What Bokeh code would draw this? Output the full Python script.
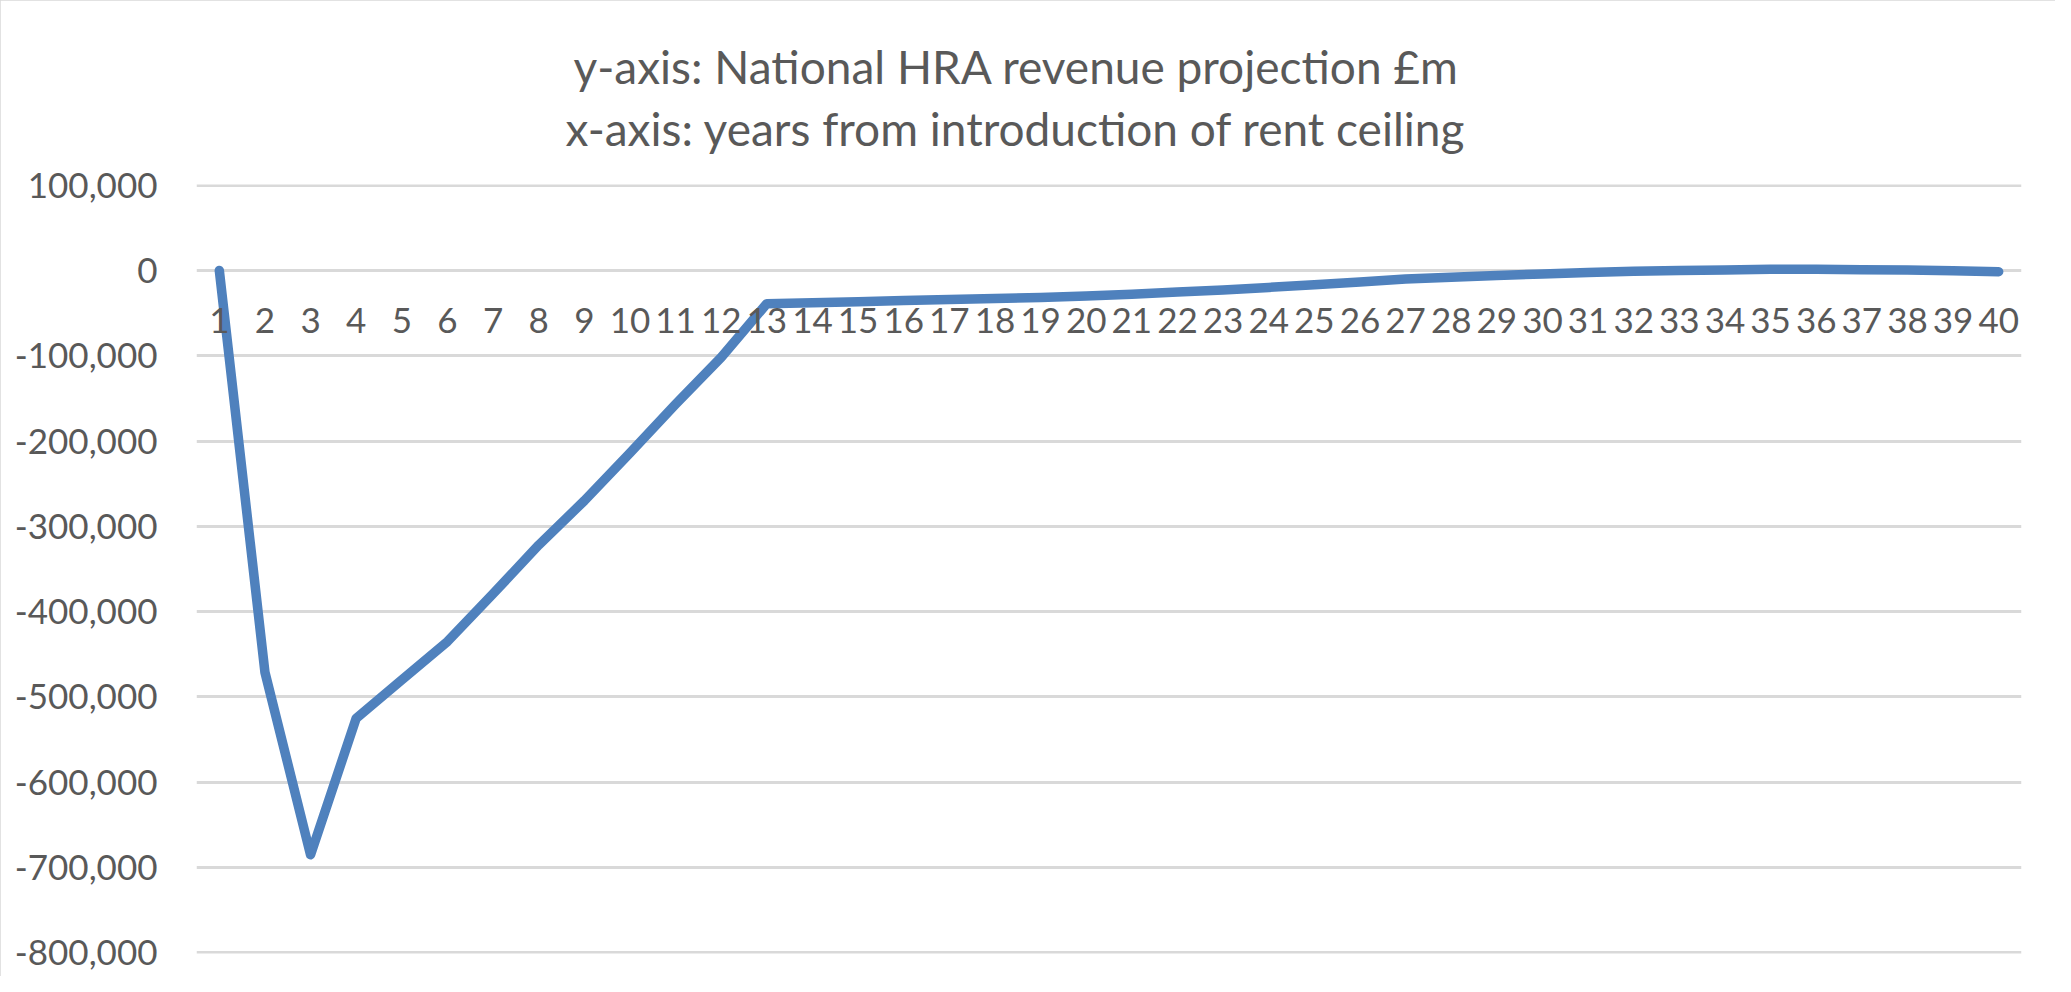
from bokeh.plotting import figure
from bokeh.models import NumeralTickFormatter, FixedTicker, FactorRange, Range1d, Title
from bokeh.embed import file_html
from bokeh.resources import INLINE

years = [str(i) for i in range(1, 41)]
revenue = [0, -471000, -685000, -525000, -480000, -435000, -379000, -322000,
           -270000, -214000, -157000, -102000, -39000, -37800, -36600, -35400,
           -34200, -33000, -31800, -30000, -28000, -25300, -22900, -19900,
           -16800, -13700, -10200, -7900, -6000, -4100, -2500, -1000,
           0, 500, 1300, 1300, 900, 500, -300, -1500]
y_ticks = [-800000, -700000, -600000, -500000, -400000, -300000, -200000,
           -100000, 0, 100000]
title_lines = ["y-axis: National HRA revenue projection £m",
               "x-axis: years from introduction of rent ceiling"]

FONT = "Lato"
GREY = "#595959"

p = figure(width=2055, height=976,
           x_range=FactorRange(factors=years),
           y_range=Range1d(y_ticks[0] - 700, y_ticks[-1] + 700),
           output_backend="svg", toolbar_location=None,
           min_border_left=196, min_border_right=34,
           min_border_top=184, min_border_bottom=23)
p.title = None
p.styles = {"outline": "3px solid #D9D9D9", "outline-offset": "-3px"}
p.outline_line_color = None
p.background_fill_color = "white"
p.border_fill_color = "white"

p.line(x=years, y=revenue, line_color="#4F81BD", line_width=9.5,
       line_cap="round", line_join="round")

# y axis
p.yaxis.ticker = FixedTicker(ticks=y_ticks)
p.yaxis.formatter = NumeralTickFormatter(format="0,0")
p.yaxis.axis_line_color = None
p.yaxis.major_tick_line_color = None
p.yaxis.minor_tick_line_color = None
p.yaxis.major_tick_out = 0
p.yaxis.major_label_standoff = 39
p.yaxis.major_label_text_font = FONT
p.yaxis.major_label_text_font_size = "35px"
p.yaxis.major_label_text_color = GREY

# x axis crossing at zero
p.xaxis.fixed_location = 0
p.xaxis.axis_line_color = None
p.xaxis.major_tick_line_color = None
p.xaxis.minor_tick_line_color = None
p.xaxis.major_tick_out = 0
p.xaxis.major_label_standoff = 38
p.xaxis.major_label_text_font = FONT
p.xaxis.major_label_text_font_size = "35px"
p.xaxis.major_label_text_color = GREY

p.xgrid.grid_line_color = None
p.ygrid.grid_line_color = "#D9D9D9"
p.ygrid.grid_line_width = 3

# two-line chart title (second line nearest the plot)
p.add_layout(Title(text=title_lines[1], align="left", offset=369, standoff=57,
                   text_font=FONT, text_font_size="46px",
                   text_font_style="normal", text_color=GREY), "above")
p.add_layout(Title(text=title_lines[0], align="left", offset=377, standoff=-47,
                   text_font=FONT, text_font_size="46px",
                   text_font_style="normal", text_color=GREY), "above")

open("out.html", "w").write(file_html(p, INLINE))
